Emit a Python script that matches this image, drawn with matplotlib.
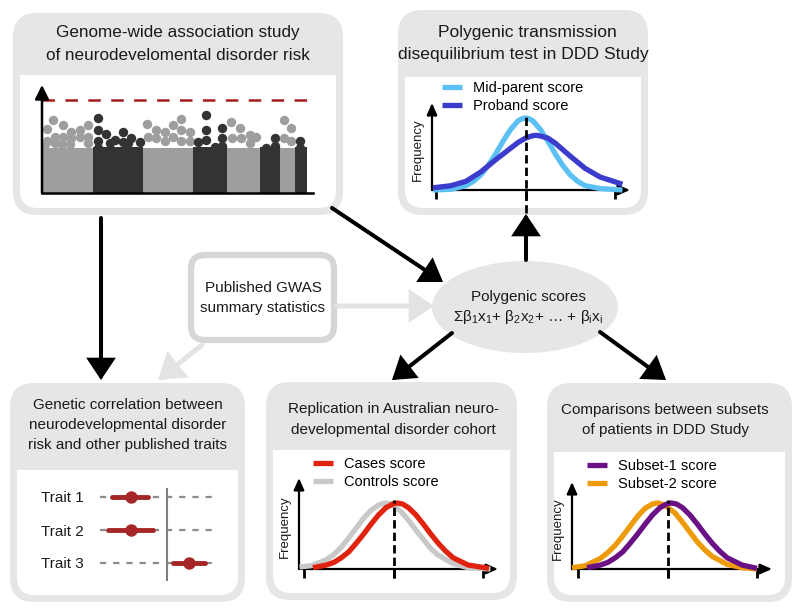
import matplotlib
matplotlib.use("Agg")
import matplotlib.pyplot as plt
from matplotlib.patches import FancyBboxPatch, Ellipse, FancyArrowPatch, Rectangle

plt.rcParams["font.family"] = ["Liberation Sans", "DejaVu Sans"]
plt.rcParams["mathtext.fontset"] = "custom"
plt.rcParams["mathtext.rm"] = "Liberation Sans"
plt.rcParams["mathtext.it"] = "Liberation Sans:italic"
plt.rcParams["mathtext.default"] = "regular"
plt.rcParams["lines.scale_dashes"] = False

# ---- data -------------------------------------------------------------
# manhattan plot (position along genome, -log10 p)
chrom_edges = [0, 51, 101, 151, 185, 218, 238, 253, 265]
chrom_base = [3.5, 3.6, 3.5, 3.6, 3.5, 3.6, 3.5, 3.6]
snp_pos = [
    [3, 5.3, 5.3, 11, 12.7, 12.7, 20, 21, 21, 28, 29.3, 29.3, 37.7, 37.7, 46, 46, 46],
    [56, 56, 56, 56, 64.3, 68, 72.7, 81, 81, 86, 89.3, 97.7],
    [105.3, 106, 114.3, 114.3, 122.7, 122.7, 131, 131, 139.3, 139.3, 139.3, 147.7, 147.7],
    [156, 164.3, 164.3, 164.3, 172.7, 180.3, 180.3, 180.3],
    [189.3, 190, 197.7, 199.3, 207.7, 207.7, 214.3],
    [224.3, 233.3, 233.3],
    [241.7, 241.7, 249.3, 249.3],
    [258.3, 258.3],
]
snp_logp = [
    [3.85, 5.02, 4.08, 5.73, 4.42, 3.9, 3.85, 5.34, 4.42, 3.85, 4.81, 4.32, 4.95, 4.42, 5.34, 4.42, 3.9],
    [5.91, 4.95, 4.08, 3.53, 4.63, 3.9, 4.16, 4.81, 4.03, 3.9, 4.32, 4.03],
    [5.42, 4.42, 4.95, 4.32, 4.81, 4.08, 5.34, 4.42, 5.81, 4.95, 4.08, 4.81, 4.08],
    [4.03, 6.12, 4.95, 4.16, 3.63, 5.08, 4.29, 3.69],
    [5.6, 4.32, 5.08, 4.29, 4.55, 3.92, 4.42],
    [3.51, 4.29, 3.69],
    [5.73, 4.29, 5.08, 4.08],
    [4.08, 3.53],
]
gw_threshold = 7.3

# polygenic score distributions (score in SD units, relative frequency)
score_ticks = [-3, 0, 3]
midparent_x = [-3.1, -2.5, -2.0, -1.75, -1.5, -1.25, -1.0, -0.75, -0.5, -0.25, -0.12,
               0.0, 0.12, 0.25, 0.5, 0.75, 1.0, 1.25, 1.5, 1.75, 2.0, 2.5, 3.25]
midparent_y = [0.0, 0.01, 0.06, 0.12, 0.21, 0.34, 0.5, 0.68, 0.84, 0.96, 0.99,
               1.0, 0.99, 0.96, 0.84, 0.68, 0.5, 0.34, 0.21, 0.12, 0.06, 0.02, 0.0]
proband_x = [-3.1, -2.5, -2.0, -1.5, -1.0, -0.5, -0.25, 0.0, 0.2, 0.35, 0.5, 0.75,
             1.0, 1.5, 2.0, 2.5, 3.25]
proband_y = [0.03, 0.06, 0.12, 0.25, 0.42, 0.58, 0.66, 0.72, 0.75, 0.76, 0.75, 0.72,
             0.65, 0.47, 0.3, 0.18, 0.08]

controls_x = [-3.15, -2.75, -2.25, -2.0, -1.75, -1.5, -1.25, -1.0, -0.75, -0.5, -0.27,
              -0.05, 0.25, 0.5, 0.75, 1.0, 1.25, 1.5, 2.0, 2.5, 3.25]
controls_y = [0.03, 0.05, 0.14, 0.22, 0.33, 0.47, 0.62, 0.77, 0.89, 0.97, 1.0,
              0.98, 0.87, 0.74, 0.59, 0.45, 0.31, 0.21, 0.08, 0.02, 0.0]
cases_x = [-2.7, -2.25, -2.0, -1.75, -1.5, -1.25, -1.0, -0.75, -0.5, -0.25, 0.0, 0.13,
           0.3, 0.5, 0.75, 1.0, 1.25, 1.5, 1.75, 2.0, 2.5, 3.2]
cases_y = [0.02, 0.06, 0.1, 0.17, 0.26, 0.39, 0.53, 0.68, 0.82, 0.93, 0.99, 1.0,
           0.985, 0.93, 0.82, 0.68, 0.53, 0.39, 0.27, 0.17, 0.06, 0.01]

subset1_x = [-2.7, -2.25, -2.0, -1.75, -1.5, -1.25, -1.0, -0.75, -0.5, -0.25, 0.0, 0.13,
             0.3, 0.5, 0.75, 1.0, 1.25, 1.5, 1.75, 2.0, 2.5, 3.0]
subset1_y = [0.02, 0.06, 0.1, 0.17, 0.26, 0.39, 0.53, 0.68, 0.82, 0.93, 0.99, 1.0,
             0.985, 0.93, 0.82, 0.68, 0.53, 0.39, 0.27, 0.17, 0.06, 0.01]
subset2_x = [-3.2, -2.75, -2.25, -2.0, -1.75, -1.5, -1.25, -1.0, -0.75, -0.5, -0.33,
             -0.1, 0.25, 0.5, 0.75, 1.0, 1.25, 1.5, 2.0, 2.5, 3.0]
subset2_y = [0.02, 0.05, 0.16, 0.25, 0.36, 0.5, 0.65, 0.8, 0.92, 0.985, 1.0,
             0.97, 0.85, 0.71, 0.56, 0.41, 0.29, 0.19, 0.07, 0.02, 0.0]

# genetic correlation (forest plot)
traits = ["Trait 1", "Trait 2", "Trait 3"]
rg_est = [-0.31, -0.31, 0.18]
rg_lo = [-0.47, -0.50, 0.05]
rg_hi = [-0.16, -0.12, 0.32]

# ---- figure ------------------------------------------------------------
W, H = 800, 611
GRAY = "#e6e6e6"
fig = plt.figure(figsize=(W / 100, H / 100), dpi=100)
base = fig.add_axes([0, 0, 1, 1])
base.set_xlim(0, W)
base.set_ylim(H, 0)
base.set_axis_off()


def px_axes(x0, y0, x1, y1):
    ax = fig.add_axes([x0 / W, 1 - y1 / H, (x1 - x0) / W, (y1 - y0) / H])
    ax.patch.set_visible(False)
    return ax


def panel(x0, y0, x1, y1, header, lines, cx, ys, fs, clip=False):
    outer = FancyBboxPatch((x0, y0), x1 - x0, y1 - y0,
                           boxstyle="round,pad=0,rounding_size=24", fc=GRAY, ec="none")
    base.add_patch(outer)
    base.add_patch(FancyBboxPatch((x0 + 7, header), x1 - x0 - 14, y1 - 7 - header,
                                  boxstyle="round,pad=0,rounding_size=18",
                                  fc="white", ec="none"))
    base.add_patch(Rectangle((x0 + 7, header), x1 - x0 - 14, 30, fc="white", ec="none"))
    for s, y, x in zip(lines, ys, cx):
        t = base.text(x, y, s, ha="center", va="center", fontsize=fs, color="#1a1a1a")
        if clip:
            t.set_clip_path(outer)


def arrow(p0, p1, color="black", lw=2.9, scale=20):
    base.add_patch(FancyArrowPatch(p0, p1, arrowstyle="-|>,head_length=0.6,head_width=0.4",
                                   mutation_scale=scale, lw=lw, color=color,
                                   shrinkA=0, shrinkB=0, joinstyle="miter"))


def axis_arrows(ax, xl, xr, ytop):
    kw = dict(arrowstyle="-|>,head_length=0.5,head_width=0.22", lw=1.6, color="black",
              shrinkA=0, shrinkB=0, mutation_scale=14)
    ax.annotate("", xy=(xr, 0), xytext=(xl, 0), arrowprops=kw, annotation_clip=False)
    ax.annotate("", xy=(xl, ytop), xytext=(xl, 0), arrowprops=kw, annotation_clip=False)


def dist_panel(x_axis, x_tick0, x_tick3, x_end, y_base, y_top, peak_px,
               back, front, legend_xy, dash_top, dash_bottom):
    scale = (x_tick3 - x_tick0) / 6
    xl = -3 - (x_tick0 - x_axis) / scale
    xr = 3 + (x_end - x_tick3) / scale
    ytop = (y_base - y_top) / peak_px
    ax = px_axes(x_axis, y_top, x_end, y_base)
    ax.set_xlim(xl, xr)
    ax.set_ylim(0, ytop)
    ax.set_axis_off()
    axis_arrows(ax, xl, xr, ytop)
    ax.vlines(score_ticks, -9 / peak_px, 0, color="black", lw=2, clip_on=False)
    handles = {}
    for x, y, c, lab in [back, front]:
        (ln,) = ax.plot(x, y, color=c, lw=3.8, solid_capstyle="butt",
                        solid_joinstyle="round", clip_on=False, zorder=3, label=lab)
        handles[lab] = ln
    ax.vlines(0, dash_bottom, dash_top, color="black", lw=2,
              linestyles=(0, (6, 3)), clip_on=False, zorder=4)
    ax.annotate("Frequency", xy=(0, 0.46), xycoords="axes fraction", xytext=(-14, 0),
                textcoords="offset pixels", rotation=90, ha="center", va="center",
                fontsize=9.5, color="#1a1a1a")
    order = [front[3], back[3]] if legend_xy[2] else [back[3], front[3]]
    ax.legend([handles[k] for k in order], order, loc="upper left",
              bbox_to_anchor=(legend_xy[0] / W, 1 - legend_xy[1] / H),
              bbox_transform=fig.transFigure, frameon=False, borderpad=0,
              borderaxespad=0, handlelength=1.4, handletextpad=0.7,
              labelspacing=0.3, fontsize=10.5)
    return ax


# panels
panel(13, 13, 343, 215, 75, ["Genome-wide association study",
                             "of neurodevelomental disorder risk"], [178, 178],
      [33, 55], 12.3)
panel(398, 10, 648, 215, 77, ["Polygenic transmission",
                              "disequilibrium test in DDD Study"], [527, 523], [33, 55],
      12.6, clip=True)
panel(10, 383, 245, 602, 470, ["Genetic correlation between",
                               "neurodevelopmental disorder",
                               "risk and other published traits"], [128] * 3,
      [405, 425, 445], 11)
panel(266, 382, 517, 600, 450, ["Replication in Australian neuro-",
                                "developmental disorder cohort"], [393] * 2, [409, 430], 11)
panel(547, 383, 792, 602, 452, ["Comparisons between subsets",
                                "of patients in DDD Study"], [665] * 2, [410, 430], 11)

# published GWAS box
base.add_patch(FancyBboxPatch((191, 255), 143, 85, boxstyle="round,pad=0,rounding_size=14",
                              fc="white", ec="#d6d6d6", lw=4.5))
base.text(263, 288, "Published GWAS", ha="center", va="center", fontsize=11, color="#1a1a1a")
base.text(263, 308, "summary statistics", ha="center", va="center", fontsize=11,
          color="#1a1a1a")

# polygenic score ellipse
base.add_patch(Ellipse((525, 307), 186, 92, fc=GRAY, ec="none"))
base.text(528, 297, "Polygenic scores", ha="center", va="center", fontsize=11,
          color="#1a1a1a")
base.text(528, 317, r"$\Sigma\beta_1x_1$+ $\beta_2x_2$+ … + $\beta_ix_i$", ha="center",
          va="center", fontsize=11, color="#1a1a1a")

# arrows
arrow((337, 306), (434, 306), color="#e3e3e3", lw=3.6, scale=22)
arrow((202, 345), (158, 380), color="#e3e3e3", lw=3.6, scale=22)
arrow((101, 218), (101, 380))
arrow((332, 208), (443, 282))
arrow((526, 260), (526, 214))
arrow((452, 333), (392, 380))
arrow((600, 332), (666, 380))

# manhattan plot
mh = px_axes(42, 85, 313, 193)
mh.set_xlim(0, 271)
mh.set_ylim(0, 108 / 12.74)
mh.set_axis_off()
for i in range(len(chrom_base)):
    c = "#9e9e9e" if i % 2 == 0 else "#333333"
    mh.bar(chrom_edges[i], chrom_base[i], chrom_edges[i + 1] - chrom_edges[i],
           align="edge", color=c, lw=0)
    mh.scatter(snp_pos[i], snp_logp[i], s=46, color=c, lw=0, zorder=2)
mh.axhline(gw_threshold, color="#a31d1d", lw=1.8, dashes=(9, 7.5))
mh.plot([0, 271], [0, 0], color="black", lw=1.8, clip_on=False, zorder=4)
mh.annotate("", xy=(0, 108 / 12.74), xytext=(0, 0), annotation_clip=False,
            arrowprops=dict(arrowstyle="-|>,head_length=0.6,head_width=0.3", lw=1.8,
                            color="black", shrinkA=0, shrinkB=0, mutation_scale=14))

# PTDT
dist_panel(432, 436, 615, 630, 190, 103, 72,
           (midparent_x, midparent_y, "#5cc0f5", "Mid-parent score"),
           (proband_x, proband_y, "#3b3bcc", "Proband score"),
           (442, 81, False), 1.02, -0.32)
# replication
dist_panel(299, 304, 483, 498, 569, 478, 66,
           (controls_x, controls_y, "#c8c8c8", "Controls score"),
           (cases_x, cases_y, "#e0230f", "Cases score"),
           (313, 457, True), 1.05, -0.14)
# subsets
dist_panel(572, 578, 757, 772, 569, 482, 66,
           (subset2_x, subset2_y, "#ee9b0b", "Subset-2 score"),
           (subset1_x, subset1_y, "#6a1285", "Subset-1 score"),
           (587, 459, True), 1.05, -0.14)

# forest plot
rows = [1, 2, 3]
fp = px_axes(100, 480.5, 218, 579.5)
fp.set_xlim(-0.57, 0.43)
fp.set_ylim(3.5, 0.5)
fp.set_frame_on(False)
fp.set_xticks([])
fp.set_yticks(rows, traits)
fp.tick_params(length=0, pad=12, labelsize=11, labelcolor="#1a1a1a")
fp.hlines(rows, -0.57, 0.43, color="#8c8c8c", lw=1.6, linestyles=(0, (4.5, 5)))
fp.vlines(0, 0.72, 3.55, color="#7f7f7f", lw=1.5, clip_on=False)
for r, lo, hi in zip(rows, rg_lo, rg_hi):
    fp.plot([lo, hi], [r, r], color="#a52626", lw=3.5, solid_capstyle="round", zorder=3)
fp.scatter(rg_est, rows, s=80, color="#a52626", lw=0, zorder=4)

fig.savefig("out.png", dpi=100)
